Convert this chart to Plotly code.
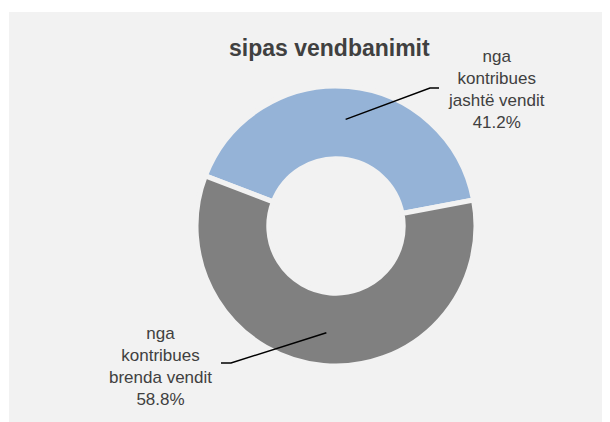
import math
import plotly.graph_objects as go

# ---- data ----
labels = ["nga<br>kontribues<br>jashtë vendit", "nga<br>kontribues<br>brenda vendit"]
values = [41.2, 58.8]
colors = ["#95b3d7", "#808080"]
title_text = "sipas vendbanimit"

# ---- layout geometry (page pixels; page body has an 8px margin) ----
OX, OY = 8, 8
W, H = 610, 422
CX, CY, R = 336, 226, 140
ROT = -69
BG = "#f2f2f2"
TXT = "#404040"
FONT = "Arial, Liberation Sans, sans-serif"

def px(x):
    return (x - OX) / W

def py(y):
    return 1 - (y - OY) / H

fig = go.Figure(go.Pie(
    labels=labels,
    values=values,
    hole=0.48,
    sort=False,
    direction="clockwise",
    rotation=ROT,
    marker=dict(colors=colors, line=dict(color=BG, width=5)),
    textinfo="none",
    hoverinfo="label+percent",
    showlegend=False,
    domain=dict(x=[px(CX - R), px(CX + R)], y=[py(CY + R), py(CY - R)]),
))

# label placement (text centre, elbow, horizontal end) in page pixels
label_pos = [
    dict(tx=496, ty=89, ex=430, ey=88, hx=439),
    dict(tx=160, ty=366, ex=231, ey=363, hx=221),
]

total = sum(values)
cum = 0.0
# white strips left and top of the grey panel
shapes = [
    dict(type="rect", xref="paper", yref="paper", x0=0, x1=px(9), y0=0, y1=1,
         fillcolor="white", line=dict(width=0), layer="below"),
    dict(type="rect", xref="paper", yref="paper", x0=0, x1=1, y0=py(12), y1=1,
         fillcolor="white", line=dict(width=0), layer="below"),
]
annotations = []
for lab, v, pos in zip(labels, values, label_pos):
    frac = v / total
    mid = math.radians(ROT + (cum + frac / 2) * 360)
    cum += frac
    rr = 0.765 * R
    ax = CX + rr * math.sin(mid)
    ay = CY - rr * math.cos(mid)
    path = "M {} {} L {} {} L {} {}".format(px(ax), py(ay), px(pos["ex"]), py(pos["ey"]),
                                           px(pos["hx"]), py(pos["ey"]))
    shapes.append(dict(type="path", xref="paper", yref="paper", path=path,
                       line=dict(color="black", width=1.5)))
    annotations.append(dict(
        x=px(pos["tx"]), y=py(pos["ty"]), xref="paper", yref="paper",
        text=f"{lab}<br>{v:.1f}%", showarrow=False, align="center",
        xanchor="center", yanchor="middle",
        font=dict(family=FONT, size=17, color=TXT),
    ))

annotations.append(dict(
    x=px(329), y=py(48), xref="paper", yref="paper", text=f"<b>{title_text}</b>",
    showarrow=False, xanchor="center", yanchor="middle",
    font=dict(family=FONT, size=23, color=TXT),
))

fig.update_layout(
    width=W, height=H,
    margin=dict(l=0, r=0, t=0, b=0),
    paper_bgcolor=BG,
    plot_bgcolor=BG,
    shapes=shapes,
    annotations=annotations,
)

fig.write_html("out.html")
